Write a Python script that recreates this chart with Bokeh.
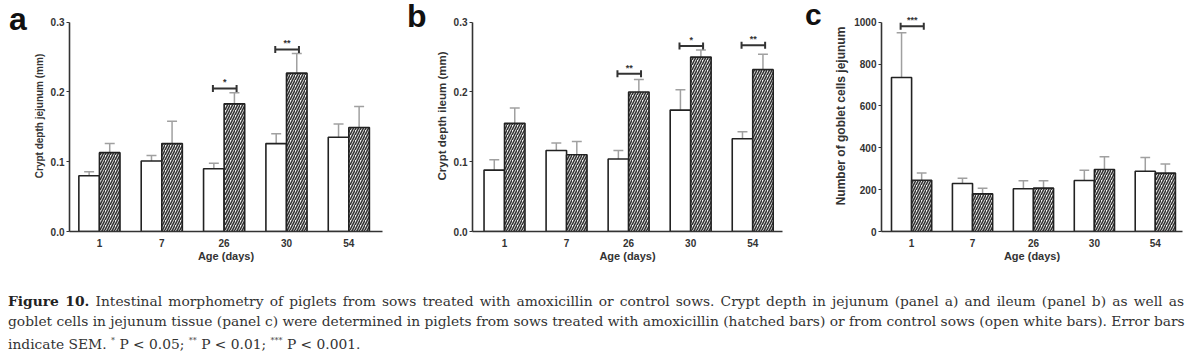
from bokeh.plotting import figure
from bokeh.models import FixedTicker, PrintfTickFormatter, Label, Div
from bokeh.layouts import row, column
from bokeh.embed import file_html
from bokeh.resources import INLINE

# ---------------- data ----------------
ages = ["1", "7", "26", "30", "54"]

ctrl_a = [0.080, 0.101, 0.090, 0.126, 0.135]
ctrl_a_sem = [0.0055, 0.008, 0.008, 0.014, 0.019]
amox_a = [0.113, 0.126, 0.183, 0.227, 0.149]
amox_a_sem = [0.013, 0.032, 0.016, 0.028, 0.030]
sig_a = [(2, "*", 0.205), (3, "**", 0.261)]

ctrl_b = [0.088, 0.116, 0.104, 0.174, 0.133]
ctrl_b_sem = [0.015, 0.011, 0.012, 0.029, 0.010]
amox_b = [0.155, 0.110, 0.200, 0.250, 0.232]
amox_b_sem = [0.022, 0.019, 0.018, 0.010, 0.022]
sig_b = [(2, "**", 0.226), (3, "*", 0.266), (4, "**", 0.267)]

ctrl_c = [736, 229, 204, 244, 288]
ctrl_c_sem = [213, 26, 38, 49, 66]
amox_c = [245, 180, 207, 296, 279]
amox_c_sem = [35, 27, 35, 61, 44]
sig_c = [(0, "***", 981)]

SANS = "Liberation Sans"
BW = 0.33  # bar width in category units
FRAME_PX = 209.3  # pixel height of the axis span (0 .. top tick)
TOP_PX = 21.7     # pixels above the top tick


def panel(ylabel, ylabel_size, ctrl, ctrl_sem, amox, amox_sem, sig, ymax, yticks, fmt,
          xr, fig_w, border_left):
    yext = ymax + TOP_PX * ymax / FRAME_PX
    p = figure(width=fig_w, height=270, x_range=xr, y_range=(0, yext),
               output_backend="svg", toolbar_location=None,
               min_border_left=border_left, min_border_right=18,
               min_border_top=0, min_border_bottom=39)
    p.outline_line_color = None
    p.xgrid.grid_line_color = None
    p.ygrid.grid_line_color = None
    p.background_fill_color = "white"
    p.border_fill_color = "white"

    xs = list(range(len(ages)))
    xc = [x - BW / 2 for x in xs]
    xh = [x + BW / 2 for x in xs]

    # error bars (upwards only)
    cap = 0.08
    for xx, m, s in ((xc, ctrl, ctrl_sem), (xh, amox, amox_sem)):
        tops = [a + b for a, b in zip(m, s)]
        p.segment(x0=xx, y0=m, x1=xx, y1=tops, line_color="#a0a0a0", line_width=1.5)
        p.segment(x0=[x - cap for x in xx], y0=tops, x1=[x + cap for x in xx], y1=tops,
                  line_color="#a0a0a0", line_width=1.5)

    # bars
    p.vbar(x=xc, top=ctrl, width=BW, bottom=0, fill_color="white",
           line_color="#222222", line_width=1.6)
    p.vbar(x=xh, top=amox, width=BW, bottom=0, fill_color="#f4f4f4",
           line_color="#222222", line_width=1.6,
           hatch_pattern="right_diagonal_line", hatch_color="#333333",
           hatch_weight=1.6, hatch_scale=5)

    # significance brackets
    for (i, stars, yb) in sig:
        x0, x1 = i - 0.18, i + 0.20
        p.segment(x0=[x0], y0=[yb], x1=[x1], y1=[yb], line_color="#333333", line_width=2)
        p.scatter(x=[x0, x1], y=[yb, yb], marker="dash", angle=1.5708, size=7,
                  line_color="#333333", line_width=2)
        p.add_layout(Label(x=(x0 + x1) / 2, y=yb, text=stars, text_align="center",
                           text_baseline="bottom", y_offset=1, text_font=SANS,
                           text_font_style="bold", text_font_size="9px",
                           text_color="#333333"))

    # axes
    p.xaxis.ticker = FixedTicker(ticks=xs)
    p.xaxis.major_label_overrides = {i: a for i, a in enumerate(ages)}
    p.xaxis.minor_tick_line_color = None
    p.xaxis.axis_label = "Age (days)"
    p.xaxis.major_label_standoff = 1
    p.xaxis.axis_label_standoff = 0

    p.yaxis.ticker = FixedTicker(ticks=yticks)
    p.yaxis.bounds = (0, ymax)
    if fmt:
        p.yaxis.formatter = PrintfTickFormatter(format=fmt)
    p.yaxis.minor_tick_line_color = None
    p.yaxis.major_tick_out = 3
    p.yaxis.major_tick_in = 0
    p.yaxis.major_label_standoff = 2
    p.yaxis.axis_label = ylabel
    p.yaxis.axis_label_standoff = 3

    for ax in (p.xaxis[0], p.yaxis[0]):
        ax.axis_line_color = "#333333"
        ax.axis_line_width = 1.6
        ax.major_tick_line_width = 1.2
        ax.major_label_text_font = SANS
        ax.major_label_text_font_style = "bold"
        ax.major_label_text_font_size = "10px"
        ax.major_label_text_color = "#333333"
        ax.axis_label_text_font = SANS
        ax.axis_label_text_font_style = "bold"
        ax.axis_label_text_font_size = "11px"
        ax.axis_label_text_color = "#333333"
    p.yaxis.axis_label_text_font_size = ylabel_size
    p.yaxis.major_tick_line_color = "#333333"
    p.xaxis.major_tick_line_color = None
    return p


def letter_div(letter, w, pad_left, pad_top, size):
    html = ('<div style="font-family:\'Liberation Sans\',sans-serif;font-weight:bold;'
            f'font-size:{size}px;line-height:{size}px;color:#111;padding-left:{pad_left}px;'
            f'padding-top:{pad_top}px;">{letter}</div>')
    return Div(text=html, width=w, height=270, margin=(0, 0, 0, 0))


pa = panel("Crypt depth jejunum (mm)", "10px", ctrl_a, ctrl_a_sem, amox_a, amox_a_sem, sig_a,
           0.3, [0, 0.1, 0.2, 0.3], "%.1f", (-0.48, 4.54), 370, 37)
pb = panel("Crypt depth ileum (mm)", "11.5px", ctrl_b, ctrl_b_sem, amox_b, amox_b_sem, sig_b,
           0.3, [0, 0.1, 0.2, 0.3], "%.1f", (-0.516, 4.48), 368, 35)
pc = panel("Number of goblet cells jejunum", "12px", ctrl_c, ctrl_c_sem, amox_c, amox_c_sem, sig_c,
           1000, [0, 200, 400, 600, 800, 1000], None, (-0.494, 4.446), 369, 41)

la = letter_div("a", 30, 9, 3, 32)
lb = letter_div("b", 32, 7, 0, 32)
lc = letter_div("c", 31, 5, 0, 30)

caption_html = (
    '<div style="font-family:\'DejaVu Serif\',serif;font-size:13.8px;line-height:20px;'
    'color:#333;width:1184px;padding-left:8px;padding-top:21px;">'
    '<div style="text-align:justify;text-align-last:justify;white-space:nowrap;">'
    '<span style="font-weight:bold;color:#222;">Figure 10.</span> Intestinal morphometry of piglets from sows treated '
    'with amoxicillin or control sows. Crypt depth in jejunum (panel a) and ileum (panel b) as well as</div>'
    '<div style="text-align:justify;text-align-last:justify;white-space:nowrap;">goblet cells in jejunum tissue (panel c) were determined '
    'in piglets from sows treated with amoxicillin (hatched bars) or from control sows (open white bars). Error bars</div>'
    '<div style="white-space:nowrap;">indicate SEM. <sup style="font-size:8px">*</sup> P &lt; 0.05; <sup style="font-size:8px">**</sup> P &lt; 0.01; '
    '<sup style="font-size:8px">***</sup> P &lt; 0.001.</div>'
    '</div>'
)
cap = Div(text=caption_html, width=1200, height=84, margin=(0, 0, 0, 0))

top = row(la, pa, lb, pb, lc, pc, margin=(0, 0, 0, 0), spacing=0)
layout = column(top, cap, margin=(0, 0, 0, 0), spacing=0)

open("out.html", "w").write(file_html(layout, INLINE))
